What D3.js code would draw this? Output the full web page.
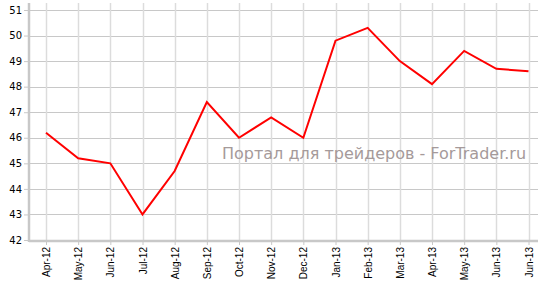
<!DOCTYPE html>
<html>
<head>
<meta charset="utf-8">
<script src="https://cdn.jsdelivr.net/npm/d3@7"></script>
<style>
  body { margin: 0; background: #fff; }
  .y-axis text { font-family: "DejaVu Sans", Verdana, sans-serif; font-size: 10px; fill: #000; }
  .x-axis text { font-family: "Liberation Sans", Arial, sans-serif; font-size: 10px; fill: #000; }
  .watermark { font-family: "DejaVu Sans", Verdana, sans-serif; font-size: 16px; fill: #a59a9a; }
</style>
</head>
<body>
<div id="chart"></div>
<script>
var months = ["Apr-12", "May-12", "Jun-12", "Jul-12", "Aug-12", "Sep-12", "Oct-12", "Nov-12",
              "Dec-12", "Jan-13", "Feb-13", "Mar-13", "Apr-13", "May-13", "Jun-13", "Jun-13"];
var values = [46.2, 45.2, 45.0, 43.0, 44.7, 47.4, 46.0, 46.8,
              46.0, 49.8, 50.3, 49.0, 48.1, 49.4, 48.7, 48.6];
var yTicks = [42, 43, 44, 45, 46, 47, 48, 49, 50, 51];

(function() {
  var width = 538, height = 285;
  var axisX = 29, axisY = 241, top = 3;

  var svg = d3.select("#chart")
    .append("svg")
    .attr("width", width)
    .attr("height", height)

  var xPositionScale = d3.scalePoint()
    .domain(d3.range(months.length))
    .range([46, 528.5])

  var yPositionScale = d3.scaleLinear()
    .domain([42, 51])
    .range([240, 10])

  // horizontal grid
  svg.append("g")
    .selectAll("line")
    .data(yTicks)
    .enter().append("line")
    .attr("x1", axisX)
    .attr("x2", width)
    .attr("y1", function(d) { return Math.round(yPositionScale(d)) + 0.5 })
    .attr("y2", function(d) { return Math.round(yPositionScale(d)) + 0.5 })
    .attr("stroke", "#c8c8c8")

  // vertical grid
  svg.append("g")
    .selectAll("line")
    .data(d3.range(months.length))
    .enter().append("line")
    .attr("x1", function(d) { return Math.round(xPositionScale(d)) + 0.5 })
    .attr("x2", function(d) { return Math.round(xPositionScale(d)) + 0.5 })
    .attr("y1", top)
    .attr("y2", axisY)
    .attr("stroke", "#dcdcdc")
    .attr("stroke-width", 1.5)

  var yAxis = d3.axisLeft(yPositionScale)
    .tickValues(yTicks)
    .tickSize(5)
    .tickPadding(2)
    .tickFormat(d3.format("d"))
  var yG = svg.append("g")
    .attr("class", "axis y-axis")
    .attr("transform", "translate(" + axisX + ",0)")
    .call(yAxis)
  yG.select(".domain").remove()
  yG.selectAll(".tick line").attr("stroke", "#c8c8c8")

  var xAxis = d3.axisBottom(xPositionScale)
    .tickSize(4)
    .tickFormat(function(i) { return months[i] })
  var xG = svg.append("g")
    .attr("class", "axis x-axis")
    .attr("transform", "translate(0," + axisY + ")")
    .call(xAxis)
  xG.select(".domain").remove()
  xG.selectAll(".tick line").attr("stroke", "#c8c8c8")
  xG.selectAll(".tick text")
    .attr("transform", "rotate(-90)")
    .attr("text-anchor", "end")
    .attr("x", -6)
    .attr("y", 0)
    .attr("dy", "0.35em")

  // axis lines
  svg.append("line")
    .attr("x1", axisX).attr("x2", axisX)
    .attr("y1", top).attr("y2", axisY + 1)
    .attr("stroke", "#c8c8c8")
    .attr("stroke-width", 2.5)
  svg.append("line")
    .attr("x1", axisX).attr("x2", width)
    .attr("y1", axisY).attr("y2", axisY)
    .attr("stroke", "#c8c8c8")
    .attr("stroke-width", 2.5)

  var line = d3.line()
    .x(function(d, i) { return xPositionScale(i) })
    .y(function(d) { return yPositionScale(d) })

  svg.append("path")
    .datum(values)
    .attr("d", line)
    .attr("stroke", "#ff0000")
    .attr("stroke-width", 2)
    .attr("fill", "none")

  svg.append("text")
    .attr("class", "watermark")
    .attr("x", 222)
    .attr("y", 159)
    .text("Портал для трейдеров - ForTrader.ru")
})();
</script>
</body>
</html>
